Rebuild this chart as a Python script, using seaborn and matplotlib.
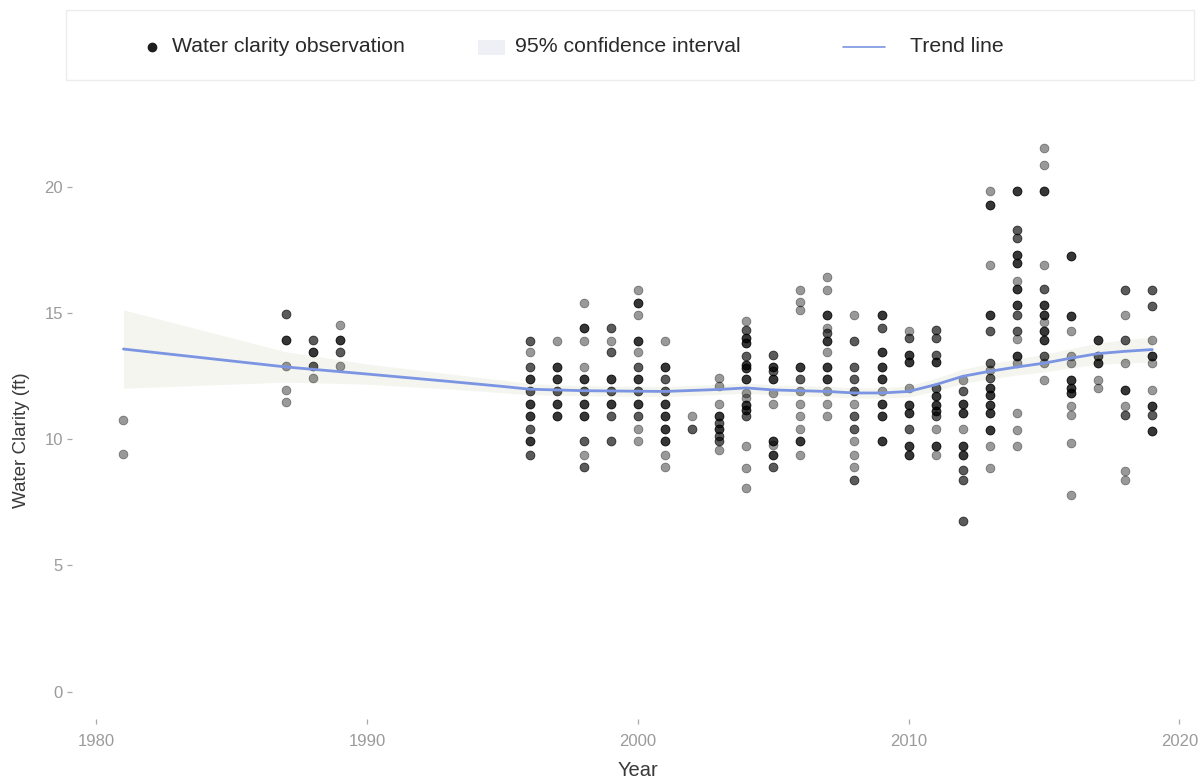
import numpy as np
import pandas as pd
import matplotlib
matplotlib.use("Agg")
import matplotlib.pyplot as plt
from matplotlib.lines import Line2D
from matplotlib.patches import Rectangle
import seaborn as sns

# Water clarity readings (ft) by year; n_obs = repeated readings with the same value
obs_year = (
    [1981] * 2
    + [1987] * 5
    + [1988] * 4
    + [1989] * 4
    + [1996] * 10
    + [1997] * 6
    + [1998] * 11
    + [1999] * 8
    + [2000] * 12
    + [2001] * 10
    + [2002] * 2
    + [2003] * 9
    + [2004] * 16
    + [2005] * 11
    + [2006] * 11
    + [2007] * 12
    + [2008] * 12
    + [2009] * 9
    + [2010] * 10
    + [2011] * 12
    + [2012] * 10
    + [2013] * 15
    + [2014] * 16
    + [2015] * 13
    + [2016] * 12
    + [2017] * 5
    + [2018] * 9
    + [2019] * 9
)
obs_ft = [
    10.75, 9.43,
    14.96, 13.93, 12.91, 11.96, 11.46,
    13.93, 13.45, 12.91, 12.42,
    14.52, 13.93, 13.45, 12.91,
    13.90, 13.44, 12.86, 12.40, 11.89, 11.41, 10.90, 10.42, 9.91, 9.39,
    13.90, 12.86, 12.40, 11.89, 11.41, 10.90,
    15.39, 14.40, 13.90, 12.86, 12.40, 11.89, 11.41, 10.90, 9.91, 9.39, 8.90,
    14.40, 13.90, 13.44, 12.40, 11.89, 11.41, 10.90, 9.91,
    15.92, 15.39, 14.90, 13.90, 13.44, 12.86, 12.40, 11.89, 11.41, 10.90, 10.42, 9.91,
    13.90, 12.86, 12.40, 11.89, 11.41, 10.90, 10.42, 9.91, 9.39, 8.90,
    10.90, 10.42,
    12.42, 12.12, 11.41, 10.90, 10.64, 10.42, 10.14, 9.91, 9.58,
    14.67, 14.34, 14.00, 13.81, 13.28, 12.95, 12.82, 12.40, 11.83, 11.63, 11.37, 11.17, 10.90, 9.72, 8.86, 8.07,
    13.35, 12.86, 12.70, 12.40, 11.83, 11.41, 9.91, 9.78, 9.39, 8.90, 8.90,
    15.92, 15.43, 15.13, 12.86, 12.40, 11.89, 11.41, 10.90, 10.42, 9.91, 9.39,
    16.42, 15.92, 14.93, 14.40, 14.20, 13.87, 13.44, 12.86, 12.40, 11.89, 11.41, 10.90,
    14.93, 13.87, 12.86, 12.40, 11.89, 11.41, 10.90, 10.42, 9.91, 9.39, 8.90, 8.37,
    14.93, 14.40, 13.44, 12.86, 12.40, 11.89, 11.41, 10.90, 9.91,
    14.30, 14.00, 13.35, 13.04, 12.03, 11.37, 11.04, 10.42, 9.72, 9.39,
    14.34, 14.00, 13.35, 13.04, 12.03, 11.70, 11.37, 11.10, 10.90, 10.42, 9.72, 9.39,
    12.36, 11.89, 11.41, 11.04, 10.42, 9.72, 9.39, 8.79, 8.40, 6.75,
    19.84, 19.29, 16.91, 14.93, 14.27, 13.02, 12.75, 12.42, 12.03, 11.76, 11.37, 11.04, 10.38, 9.72, 8.86,
    19.84, 18.30, 17.97, 17.31, 16.98, 16.25, 15.95, 15.33, 14.93, 14.27, 13.97, 13.28, 13.02, 11.04, 10.38, 9.72,
    21.53, 20.87, 19.84, 16.91, 15.95, 15.33, 14.93, 14.63, 14.27, 13.94, 13.28, 13.02, 12.33,
    17.27, 14.89, 14.27, 13.28, 13.02, 12.33, 12.03, 11.83, 11.33, 10.97, 9.85, 7.80,
    13.94, 13.28, 13.02, 12.33, 12.03,
    15.92, 14.93, 13.94, 13.02, 11.96, 11.33, 10.97, 8.73, 8.37,
    15.92, 15.26, 13.94, 13.28, 13.02, 11.96, 11.33, 10.97, 10.31,
]
n_obs = [
    1, 1,
    2, 3, 1, 1, 1,
    2, 3, 2, 1,
    1, 3, 2, 1,
    2, 1, 2, 3, 2, 3, 3, 2, 3, 2,
    1, 3, 3, 2, 3, 3,
    1, 3, 1, 1, 3, 2, 3, 3, 2, 1, 2,
    2, 1, 2, 3, 2, 3, 2, 2,
    1, 3, 1, 3, 1, 2, 3, 2, 3, 2, 1, 1,
    1, 3, 2, 2, 3, 3, 3, 3, 1, 1,
    1, 2,
    1, 1, 1, 3, 2, 3, 2, 2, 1,
    1, 2, 3, 3, 2, 3, 3, 3, 1, 1, 3, 3, 2, 1, 1, 1,
    2, 3, 2, 3, 1, 1, 3, 1, 3, 1, 1,
    1, 1, 1, 3, 2, 1, 1, 1, 1, 3, 1,
    1, 1, 3, 1, 2, 3, 1, 3, 3, 1, 1, 1,
    1, 2, 2, 2, 2, 1, 2, 2, 1, 1, 1, 2,
    3, 2, 3, 3, 3, 1, 3, 3, 3,
    1, 2, 3, 3, 1, 3, 3, 2, 3, 3,
    2, 2, 2, 3, 2, 3, 3, 3, 2, 1, 3, 1,
    1, 2, 3, 3, 1, 3, 3, 2, 2, 2,
    1, 3, 1, 3, 2, 2, 1, 2, 3, 3, 3, 3, 3, 1, 1,
    3, 2, 2, 3, 3, 1, 3, 3, 2, 2, 1, 3, 1, 1, 1, 1,
    1, 1, 3, 1, 2, 3, 3, 1, 3, 3, 2, 1, 1,
    3, 3, 1, 1, 1, 3, 3, 3, 1, 1, 1, 1,
    3, 2, 3, 1, 1,
    2, 1, 2, 1, 3, 1, 2, 1, 1,
    2, 2, 1, 3, 1, 1, 3, 2, 3,
]

# Smoothed trend and its 95% confidence band
trend_year = [1981, 1987, 1990, 1993, 1995, 1996, 1998, 2001, 2003, 2004, 2005,
              2006, 2007, 2008, 2009, 2010, 2011, 2012, 2013, 2014, 2015, 2016,
              2017, 2018, 2019]
trend_ft = [13.57, 12.86, 12.58, 12.29, 12.09, 11.98, 11.92, 11.89, 11.97, 12.03,
            11.95, 11.92, 11.89, 11.83, 11.83, 11.89, 12.16, 12.49, 12.69, 12.86,
            13.01, 13.21, 13.39, 13.48, 13.55]
trend_ci = [1.55, 0.60, 0.40, 0.30, 0.25, 0.22, 0.20, 0.20, 0.20, 0.20, 0.20,
            0.20, 0.20, 0.20, 0.20, 0.22, 0.25, 0.28, 0.30, 0.32, 0.35, 0.38,
            0.42, 0.46, 0.50]

x_ticks = [1980, 1990, 2000, 2010, 2020]
y_ticks = [0, 5, 10, 15, 20]

obs = pd.DataFrame({"year": obs_year, "ft": obs_ft, "n": n_obs})
obs = obs.loc[obs.index.repeat(obs["n"])].reset_index(drop=True)

trend = pd.DataFrame({"year": trend_year, "ft": trend_ft, "ci": trend_ci})
trend["lo"] = trend["ft"] - trend["ci"]
trend["hi"] = trend["ft"] + trend["ci"]

sns.set_theme(style="white")
plt.rcParams["font.family"] = ["Liberation Sans", "DejaVu Sans"]

W, H = 1201, 783
fig = plt.figure(figsize=(W / 100, H / 100), dpi=100)
fig.patch.set_facecolor("white")


def fx(px):
    return px / W


def fy(py):
    return 1 - py / H


left, right, top, bottom = 72, 1201, 121, 719
ax = fig.add_axes([fx(left), fy(bottom), fx(right - left), (bottom - top) / H])

TREND_BLUE = "#7b95e3"
BAND = "#f3f4ee"

ax.fill_between(trend["year"], trend["lo"], trend["hi"], color=BAND,
                alpha=0.9, linewidth=0, zorder=1)
sns.scatterplot(data=obs, x="year", y="ft", ax=ax, color="black", alpha=0.4,
                s=40, edgecolor="black", linewidth=0.6, legend=False, zorder=2)
sns.lineplot(data=trend, x="year", y="ft", ax=ax, color=TREND_BLUE,
             linewidth=2.0, zorder=3)

ax.set_xlim(1979.1, 1979.1 + (right - left) / 27.075)
ax.set_ylim(-1.08, 22.6)
ax.set_xticks(x_ticks)
ax.set_yticks(y_ticks)
ax.set_xlabel("")
ax.set_ylabel("")
for s in ax.spines.values():
    s.set_visible(False)
ax.grid(False)
ax.tick_params(axis="both", which="both", length=3.5, width=0.9,
               color="#a8a8a8", labelcolor="#9c9a9a", labelsize=12)
ax.tick_params(axis="x", pad=7, bottom=True)
ax.tick_params(axis="y", pad=3, left=True)

fig.text(fx(638), fy(771), "Year", ha="center", va="center",
         fontsize=14.5, color="#3a3a3a")
fig.text(fx(22), fy(440), "Water Clarity (ft)", ha="center", va="center",
         rotation=90, fontsize=13.5, color="#3a3a3a")

# Legend strip across the top
fig.add_artist(Rectangle((fx(66), fy(80)), fx(1194 - 66), (80 - 10) / H,
                         transform=fig.transFigure, facecolor="white",
                         edgecolor="#ececec", linewidth=1.0))
ly = 47
fig.add_artist(Line2D([fx(152)], [fy(ly)], transform=fig.transFigure,
                      marker="o", markersize=6.0, color="#1e1e1e",
                      linestyle="none"))
fig.text(fx(172), fy(ly), "Water clarity observation", ha="left",
         va="center", fontsize=15.3, color="#2a2a2a")
fig.add_artist(Rectangle((fx(478), fy(55)), fx(505 - 478), 15 / H,
                         transform=fig.transFigure, facecolor="#eef0f6",
                         edgecolor="none"))
fig.text(fx(515), fy(ly), "95% confidence interval", ha="left",
         va="center", fontsize=15.3, color="#2a2a2a")
fig.add_artist(Line2D([fx(843), fx(885)], [fy(ly), fy(ly)],
                      transform=fig.transFigure, color=TREND_BLUE,
                      linewidth=1.2))
fig.text(fx(910), fy(ly), "Trend line", ha="left", va="center",
         fontsize=15.3, color="#2a2a2a")

fig.savefig("out.png", dpi=100, facecolor="white")
